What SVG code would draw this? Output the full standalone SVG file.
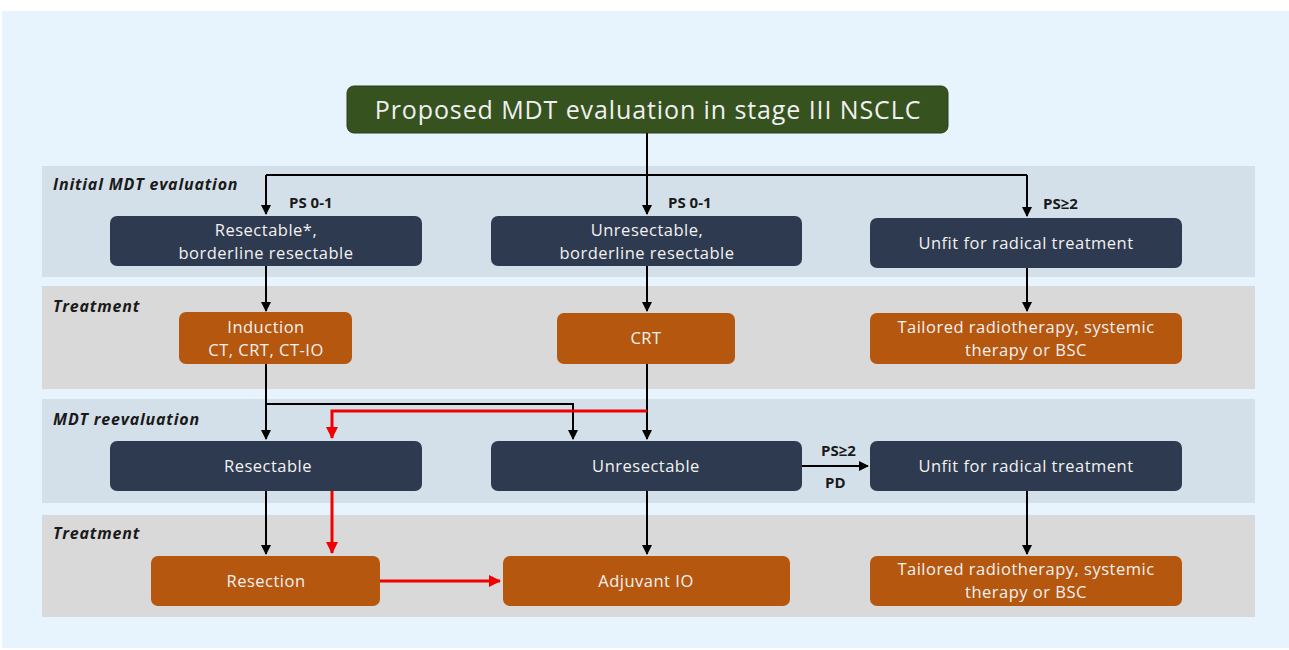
<svg xmlns="http://www.w3.org/2000/svg" width="1289" height="650" viewBox="0 0 1289 650">
<style>
.bandb{fill:#d4e0e9}
.bandg{fill:#d9d9d9}
.sec{font-family:"Open Sans","Noto Sans",sans-serif;font-size:16px;letter-spacing:0.8px;font-weight:700;font-style:italic;fill:#1a1a1a}
.navy{fill:#2e3a4f}
.org{fill:#b5570f}
.nt{font-family:"Open Sans","Noto Sans",sans-serif;font-size:16.5px;letter-spacing:0.5px;fill:#f2f2f2;text-anchor:middle}
.lbl{font-family:"Open Sans","Noto Sans",sans-serif;font-size:15px;font-weight:700;fill:#1a1a1a}
.k{stroke:#000;stroke-width:2;fill:none}
.r{stroke:#f00000;stroke-width:3;fill:none}
</style>
<defs>
<marker id="ak" markerWidth="10" markerHeight="10" refX="9" refY="5" orient="auto" markerUnits="userSpaceOnUse"><path d="M0,0 L10,5 L0,10 Z" fill="#000"/></marker>
<marker id="ar" markerWidth="12" markerHeight="12" refX="11" refY="6" orient="auto" markerUnits="userSpaceOnUse"><path d="M0,0 L12,6 L0,12 Z" fill="#f00000"/></marker>
</defs>
<rect x="0" y="0" width="1289" height="650" fill="#ffffff"/>
<rect x="2" y="11" width="1287" height="637" fill="#e8f4fd"/>
<g id="bands">
<rect class="bandb" x="42" y="166" width="1213" height="111"/>
<rect class="bandg" x="42" y="286" width="1213" height="103"/>
<rect class="bandb" x="42" y="399" width="1213" height="104"/>
<rect class="bandg" x="42" y="515" width="1213" height="102"/>
<text class="sec" x="53" y="190">Initial MDT evaluation</text>
<text class="sec" x="53" y="312">Treatment</text>
<text class="sec" x="53" y="425">MDT reevaluation</text>
<text class="sec" x="53" y="539">Treatment</text>
</g>
<g id="connectors">
<path class="k" d="M647,133 V175"/>
<path class="k" d="M266,175 H1027"/>
<path class="k" d="M266,175 V214" marker-end="url(#ak)"/>
<path class="k" d="M647,175 V214" marker-end="url(#ak)"/>
<path class="k" d="M1027,175 V216" marker-end="url(#ak)"/>
<path class="k" d="M266,266 V311" marker-end="url(#ak)"/>
<path class="k" d="M647,266 V311" marker-end="url(#ak)"/>
<path class="k" d="M1027,268 V311" marker-end="url(#ak)"/>
<path class="k" d="M266,364 V439" marker-end="url(#ak)"/>
<path class="k" d="M266,404 H573 V439" marker-end="url(#ak)"/>
<path class="k" d="M647,364 V439" marker-end="url(#ak)"/>
<path class="r" d="M647,411 H332 V438" marker-end="url(#ar)"/>
<path class="k" d="M266,491 V554" marker-end="url(#ak)"/>
<path class="r" d="M332,491 V553" marker-end="url(#ar)"/>
<path class="r" d="M380,581 H500" marker-end="url(#ar)"/>
<path class="k" d="M647,491 V554" marker-end="url(#ak)"/>
<path class="k" d="M802,466 H868" marker-end="url(#ak)"/>
<path class="k" d="M1027,491 V554" marker-end="url(#ak)"/>
<text class="lbl" x="289" y="208">PS 0-1</text>
<text class="lbl" x="668" y="208">PS 0-1</text>
<text class="lbl" x="1043" y="209">PS≥2</text>
<text class="lbl" x="821" y="456">PS≥2</text>
<text class="lbl" x="825" y="488">PD</text>
</g>
<g id="title">
<rect x="347" y="86" width="601" height="47" rx="7" fill="#36521f" stroke="#2a3f18" stroke-width="1"/>
<text x="648" y="119" font-family="'Open Sans','Noto Sans',sans-serif" font-size="25" letter-spacing="0.9" fill="#f0f0f0" text-anchor="middle">Proposed MDT evaluation in stage III NSCLC</text>
</g>
<g id="n-resectable1"><rect class="navy" x="110" y="216" width="312" height="50" rx="7"/><text class="nt" x="266" y="236">Resectable*,</text><text class="nt" x="266" y="259">borderline resectable</text></g>
<g id="n-unresectable1"><rect class="navy" x="491" y="216" width="311" height="50" rx="7"/><text class="nt" x="647" y="236">Unresectable,</text><text class="nt" x="647" y="259">borderline resectable</text></g>
<g id="n-unfit1"><rect class="navy" x="870" y="218" width="312" height="50" rx="7"/><text class="nt" x="1026" y="249">Unfit for radical treatment</text></g>
<g id="n-induction"><rect class="org" x="179" y="312" width="173" height="52" rx="7"/><text class="nt" x="266" y="333">Induction</text><text class="nt" x="266" y="356">CT, CRT, CT-IO</text></g>
<g id="n-crt"><rect class="org" x="557" y="313" width="178" height="51" rx="7"/><text class="nt" x="646" y="344">CRT</text></g>
<g id="n-tailored1"><rect class="org" x="870" y="313" width="312" height="51" rx="7"/><text class="nt" x="1026" y="333">Tailored radiotherapy, systemic</text><text class="nt" x="1026" y="356">therapy or BSC</text></g>
<g id="n-resectable2"><rect class="navy" x="110" y="441" width="312" height="50" rx="7"/><text class="nt" x="268" y="472">Resectable</text></g>
<g id="n-unresectable2"><rect class="navy" x="491" y="441" width="311" height="50" rx="7"/><text class="nt" x="646" y="472">Unresectable</text></g>
<g id="n-unfit2"><rect class="navy" x="870" y="441" width="312" height="50" rx="7"/><text class="nt" x="1026" y="472">Unfit for radical treatment</text></g>
<g id="n-resection"><rect class="org" x="151" y="556" width="229" height="50" rx="7"/><text class="nt" x="266" y="587">Resection</text></g>
<g id="n-adjuvant"><rect class="org" x="503" y="556" width="287" height="50" rx="7"/><text class="nt" x="646" y="587">Adjuvant IO</text></g>
<g id="n-tailored2"><rect class="org" x="870" y="556" width="312" height="50" rx="7"/><text class="nt" x="1026" y="575">Tailored radiotherapy, systemic</text><text class="nt" x="1026" y="598">therapy or BSC</text></g>
</svg>
